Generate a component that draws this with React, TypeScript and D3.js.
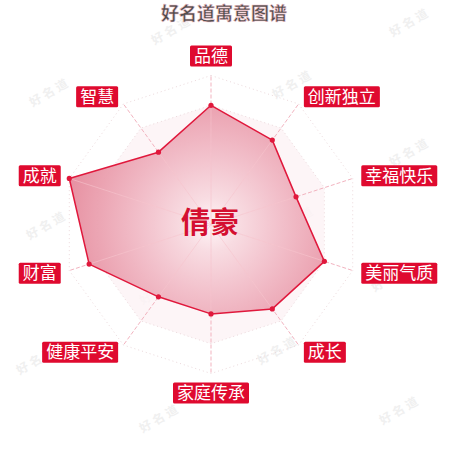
import React, { useEffect, useRef } from 'react';
import * as d3 from 'd3';

const indicators = ['品德', '创新独立', '幸福快乐', '美丽气质', '成长', '家庭传承', '健康平安', '财富', '成就', '智慧'];
const values = [80, 70, 60, 80, 70, 60, 60, 86, 100, 60];
const maxValue = 100;
const splitLevels = [20, 40, 60, 80, 100];
const title = '好名道寓意图谱';
const centerName = '倩豪';
const watermarkSpots = [
  [172, 30], [410, 22], [50, 92], [293, 84], [172, 158], [410, 152],
  [47, 225], [295, 220], [160, 290], [392, 277], [37, 360], [278, 350],
  [160, 418], [400, 410],
];

const App: React.FC = () => {
  const svgRef = useRef<SVGSVGElement>(null);

  useEffect(() => {
    if (!svgRef.current) return;
    const width = 450;
    const height = 450;
    const cx = 211;
    const cy = 224.5;
    const R = 149;
    const n = indicators.length;
    const font = '"Noto Sans CJK SC", "Noto Sans", sans-serif';

    const svg = d3.select(svgRef.current)
      .attr('width', width)
      .attr('height', height)
      .html('');

    const defs = svg.append('defs');
    const grad = defs.append('radialGradient')
      .attr('id', 'areaGrad')
      .attr('gradientUnits', 'userSpaceOnUse')
      .attr('cx', 0).attr('cy', 0).attr('r', R);
    grad.append('stop').attr('offset', '0%').attr('stop-color', '#fff6f8');
    grad.append('stop').attr('offset', '18%').attr('stop-color', '#f8dbe1');
    grad.append('stop').attr('offset', '45%').attr('stop-color', '#f2bfca');
    grad.append('stop').attr('offset', '100%').attr('stop-color', '#e5899b');

    // watermarks
    svg.append('g').selectAll('text')
      .data(watermarkSpots)
      .join('text')
      .attr('transform', d => `translate(${d[0]},${d[1]}) rotate(-30)`)
      .attr('text-anchor', 'middle')
      .attr('dy', '0.35em')
      .style('font-family', font)
      .style('font-size', '12px')
      .style('font-weight', 'bold')
      .style('letter-spacing', '3px')
      .attr('fill', '#f0f0f0')
      .text('好名道');

    const angle = d3.scaleLinear().domain([0, n]).range([0, 2 * Math.PI]);
    const rScale = d3.scaleLinear().domain([0, maxValue]).range([0, R]);

    const g = svg.append('g').attr('transform', `translate(${cx},${cy})`);

    const ring = d3.lineRadial<number>()
      .angle((_, i) => angle(i))
      .radius(d => rScale(d))
      .curve(d3.curveLinearClosed);

    // split area (faint)
    g.append('path')
      .attr('d', ring(indicators.map(() => 80)) as string)
      .attr('fill', '#fdf3f5')
      .attr('opacity', 0.8);

    g.selectAll('path.grid')
      .data(splitLevels)
      .join('path')
      .attr('class', 'grid')
      .attr('d', lv => ring(indicators.map(() => lv)) as string)
      .attr('fill', 'none')
      .attr('stroke', '#ecd9dc')
      .attr('stroke-width', 1)
      .attr('stroke-dasharray', '1,3');

    g.selectAll('line.axis')
      .data(indicators)
      .join('line')
      .attr('class', 'axis')
      .attr('x1', 0).attr('y1', 0)
      .attr('x2', (_, i) => R * Math.sin(angle(i)))
      .attr('y2', (_, i) => -R * Math.cos(angle(i)))
      .attr('stroke', '#f2b3bf')
      .attr('stroke-width', 1)
      .attr('stroke-dasharray', '4,2');

    // data area
    g.append('path')
      .attr('d', ring(values) as string)
      .attr('fill', 'url(#areaGrad)')
      .attr('fill-opacity', 0.95)
      .attr('stroke', '#e0183c')
      .attr('stroke-width', 1.5)
      .attr('stroke-linejoin', 'round');

    // axis lines visible through the fill
    g.selectAll('line.axis2')
      .data(indicators)
      .join('line')
      .attr('class', 'axis2')
      .attr('x1', 0).attr('y1', 0)
      .attr('x2', (_, i) => rScale(values[i]) * Math.sin(angle(i)))
      .attr('y2', (_, i) => -rScale(values[i]) * Math.cos(angle(i)))
      .attr('stroke', '#f7c6cf')
      .attr('stroke-opacity', 0.6)
      .attr('stroke-width', 1);

    g.selectAll('circle.pt')
      .data(values)
      .join('circle')
      .attr('class', 'pt')
      .attr('cx', (d, i) => rScale(d) * Math.sin(angle(i)))
      .attr('cy', (d, i) => -rScale(d) * Math.cos(angle(i)))
      .attr('r', 2.6)
      .attr('fill', '#e0183c');

    // labels
    const labelR = R + 9;
    const fs = 17;
    const boxH = 21;
    const labels = g.selectAll('g.lbl')
      .data(indicators)
      .join('g')
      .attr('class', 'lbl')
      .attr('transform', (d, i) => {
        const a = angle(i);
        const s = Math.sin(a);
        const c = Math.cos(a);
        const ax = labelR * s;
        const ay = -labelR * c;
        const w = d.length * fs + 8;
        const x = s > 0.01 ? ax : s < -0.01 ? ax - w : ax - w / 2;
        const y = c > 0.99 ? ay - boxH : c < -0.99 ? ay : ay - boxH / 2;
        return `translate(${x},${y})`;
      });
    labels.append('rect')
      .attr('width', d => d.length * fs + 8)
      .attr('height', boxH)
      .attr('rx', 1.5)
      .attr('fill', '#df0a2f');
    labels.append('text')
      .attr('x', d => (d.length * fs + 8) / 2)
      .attr('y', boxH / 2)
      .attr('dy', '0.36em')
      .attr('text-anchor', 'middle')
      .style('font-family', font)
      .style('font-size', `${fs}px`)
      .attr('fill', '#ffffff')
      .text(d => d);

    // center name
    g.append('text')
      .attr('x', -1)
      .attr('y', -2)
      .attr('dy', '0.36em')
      .attr('text-anchor', 'middle')
      .style('font-family', font)
      .style('font-size', '29px')
      .style('font-weight', 'bold')
      .attr('fill', '#d40f30')
      .text(centerName);

    // title
    svg.append('text')
      .attr('x', 224)
      .attr('y', 14)
      .attr('dy', '0.36em')
      .attr('text-anchor', 'middle')
      .style('font-family', font)
      .style('font-size', '18px')
      .style('font-weight', 'bold')
      .attr('fill', '#4d4d4d')
      .attr('stroke', '#f3c3cc')
      .attr('stroke-width', 0.5)
      .text(title);
  }, []);

  return (
    <div style={{ position: 'absolute', left: 0, top: 0, width: 450, height: 450, background: '#ffffff' }}>
      <svg ref={svgRef}></svg>
    </div>
  );
};

export default App;
